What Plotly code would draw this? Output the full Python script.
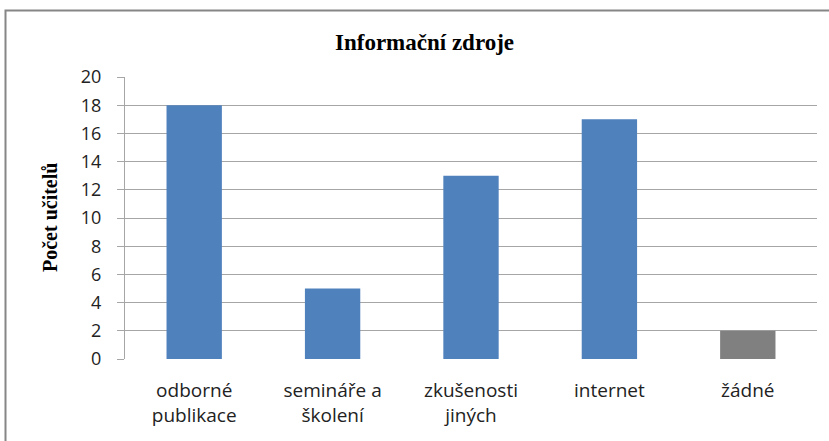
import plotly.graph_objects as go

categories = ["odborné<br>publikace", "semináře a<br>školení", "zkušenosti<br>jiných", "internet", "žádné"]
values = [18, 5, 13, 17, 2]
bar_colors = ["#4F81BD", "#4F81BD", "#4F81BD", "#4F81BD", "#808080"]
y_ticks = [0, 2, 4, 6, 8, 10, 12, 14, 16, 18, 20]

W, H = 829, 441
L, R, T, B = 125, 12, 77, 82
pw = W - L - R
ph = H - T - B

def px_x(px):
    return (px - L) / pw

def px_y(py):
    return (H - B - py) / ph

fig = go.Figure(go.Bar(x=categories, y=values, marker=dict(color=bar_colors, line=dict(width=0)), width=0.4))

fig.update_layout(
    width=W, height=H,
    margin=dict(l=L, r=R, t=T, b=B, autoexpand=False),
    paper_bgcolor="white", plot_bgcolor="white",
    showlegend=False,
    font=dict(family="Open Sans, Lato, sans-serif", size=18, color="#222222"),
)
fig.update_yaxes(range=[0, 20], tickvals=y_ticks, showgrid=True, gridcolor="#A6A6A6", gridwidth=1,
                 showline=True, linecolor="#A6A6A6", linewidth=1, ticks="outside", ticklen=7,
                 tickcolor="#A6A6A6", zeroline=False, automargin=False,
                 ticklabelstandoff=12, tickfont=dict(size=18))
fig.update_xaxes(showline=False, ticks="", tickfont=dict(size=19), showgrid=False, automargin=False,
                 ticklabelstandoff=18)

serif = "Liberation Serif, Times New Roman, serif"
fig.add_annotation(text="<b>Informační zdroje</b>", xref="paper", yref="paper",
                   x=px_x(424), y=px_y(42), xanchor="center", yanchor="middle", showarrow=False,
                   font=dict(family=serif, size=23, color="#000000"))
fig.add_annotation(text="<b>Počet učitelů</b>", xref="paper", yref="paper",
                   x=px_x(50), y=0.5, xanchor="center", yanchor="middle", showarrow=False, textangle=-90,
                   font=dict(family=serif, size=20, color="#000000"))

# outer chart frame
fig.add_shape(type="rect", xref="paper", yref="paper",
              x0=px_x(5.5), x1=px_x(845),
              y0=px_y(460), y1=px_y(10.5),
              line=dict(color="#868686", width=2), fillcolor="rgba(0,0,0,0)", layer="below")

fig.write_html("out.html", config={"displayModeBar": False},
               post_script="document.body.style.margin='0px';")
